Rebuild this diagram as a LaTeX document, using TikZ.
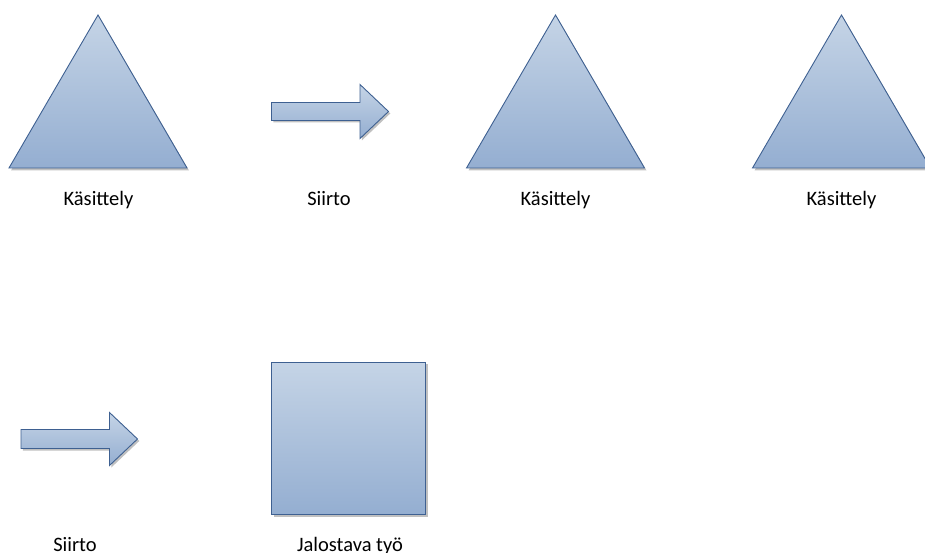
\documentclass[tikz,border=0pt]{standalone}
\usepackage{fontspec}
\setmainfont{Carlito}
\definecolor{shapetop}{RGB}{197,212,230}
\definecolor{shapebot}{RGB}{148,174,209}
\definecolor{shapeline}{RGB}{62,96,145}
\definecolor{shadowgray}{RGB}{150,150,150}
\tikzset{
  shapebody/.style={top color=shapetop, bottom color=shapebot, draw=shapeline, line width=0.9pt, line join=miter},
  shapeshadow/.style={fill=shadowgray, fill opacity=0.6, draw=none},
  caption/.style={font=\fontsize{20.5}{24}\selectfont, text=black, inner sep=0pt, anchor=base}
}
\newcommand{\triangleshape}[1]{%
  \fill[shapeshadow] ($(#1)+(-87,2.5)$) -- ($(#1)+(1.5,-151)$) -- ($(#1)+(91,2.5)$) -- cycle;
  \shade[shapebody] ($(#1)+(-89,0)$) -- ($(#1)+(0,-153)$) -- ($(#1)+(89,0)$) -- cycle;}
\newcommand{\arrowshape}[6]{% left x, shaft top, shaft bottom, head back x, head half height, tip x; centre y from shaft
  \begin{scope}[yshift=-2pt,xshift=1.8pt]
  \fill[shapeshadow] (#1,#2) -- (#4,#2) -- (#4,{(#2+#3)/2-#5}) -- (#6,{(#2+#3)/2}) -- (#4,{(#2+#3)/2+#5}) -- (#4,#3) -- (#1,#3) -- cycle;
  \end{scope}
  \shade[shapebody] (#1,#2) -- (#4,#2) -- (#4,{(#2+#3)/2-#5}) -- (#6,{(#2+#3)/2}) -- (#4,{(#2+#3)/2+#5}) -- (#4,#3) -- (#1,#3) -- cycle;}
\usetikzlibrary{calc}
\begin{document}
\begin{tikzpicture}[x=1pt,y=-1pt]
\useasboundingbox (0,0) rectangle (925,553);
\clip (0,0) rectangle (925,553);
% handling triangles (base-centre points)
\coordinate (t1) at (98,168);
\coordinate (t2) at (555.5,168);
\coordinate (t3) at (841.5,168);
\triangleshape{t1}
\triangleshape{t2}
\triangleshape{t3}
% transport arrows
\arrowshape{271.5}{102.5}{120.5}{360}{27}{388.5}
\arrowshape{21}{429.5}{448.5}{109.5}{26.5}{137.5}
% value-adding work square
\fill[shapeshadow] (273.5,364) rectangle (427.5,516.5);
\shade[shapebody] (271.5,362) rectangle (425.5,514.5);
% captions
\node[caption] (c1) at (98.5,206) {Käsittely};
\node[caption] (c2) at (329,206) {Siirto};
\node[caption] (c3) at (555.5,206) {Käsittely};
\node[caption] (c4) at (841.5,206) {Käsittely};
\node[caption] (c5) at (75,551) {Siirto};
\node[caption] (c6) at (350,551) {Jalostava työ};
\end{tikzpicture}
\end{document}
